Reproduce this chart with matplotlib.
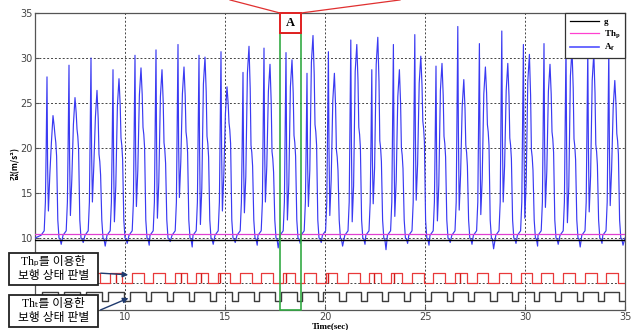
import numpy as np
import matplotlib
matplotlib.use("Agg")
import matplotlib.pyplot as plt
from matplotlib.patches import Rectangle, FancyArrowPatch
from matplotlib.lines import Line2D

plt.rcParams['mathtext.fontset'] = 'stix'

# ---------------- data ----------------
# time of the first (largest) peak of every step (s)
step_t = [6.10, 7.20, 8.30, 9.40, 10.50, 11.55, 12.65, 13.70, 14.80, 15.90,
          16.95, 18.05, 19.10, 20.17, 21.29, 22.34, 23.42, 24.49, 25.55, 26.64,
          27.72, 28.84, 29.92, 30.95, 32.05, 33.14, 34.19]
peak1 = [27.9, 29.2, 30.0, 28.7, 30.3, 30.9, 31.5, 30.3, 30.7, 28.4,
         31.1, 30.6, 28.3, 30.7, 32.0, 28.7, 31.5, 32.6, 29.1, 33.5,
         31.6, 33.0, 31.5, 31.6, 31.5, 31.0, 31.0]
peak2 = [23.6, 25.6, 26.4, 27.7, 28.9, 28.7, 29.0, 30.1, 26.8, 31.3,
         29.3, 29.8, 32.5, 28.3, 31.5, 32.3, 28.7, 30.2, 29.4, 27.6,
         29.0, 29.4, 30.4, 29.3, 31.0, 30.5, 27.5]
trough = [13.0, 12.5, 14.0, 11.8, 13.5, 12.2, 14.5, 11.5, 13.0, 12.8,
          14.0, 12.0, 13.5, 12.5, 11.8, 13.8, 12.4, 14.2, 11.9, 13.1,
          12.6, 14.0, 12.2, 13.4, 11.7, 12.9, 13.6]
shoulder = [20.6, 21.3, 18.5, 20.3, 21.5, 19.8, 21.0, 20.5, 22.0, 19.5,
            18.8, 20.6, 21.8, 19.0, 21.5, 20.0, 19.2, 22.2, 20.5, 19.5,
            21.8, 20.3, 19.0, 21.0, 20.2, 19.6, 20.8]
dip = [9.3, 9.5, 9.1, 9.4, 9.2, 9.6, 9.0, 9.3, 9.5, 9.2,
       8.9, 9.4, 9.5, 9.1, 9.3, 8.7, 9.4, 9.2, 9.5, 9.3,
       8.8, 9.4, 9.1, 9.3, 9.0, 9.4, 9.2]

g_level = 9.8
thp_level = 10.5
red_low, red_high = 5.0, 6.1
blk_low, blk_high = 3.0, 4.0
red_glitch_t = [9.55, 12.8, 13.8, 14.75, 18.05, 20.15, 22.45, 23.45, 26.75]

xticks = [10, 15, 20, 25, 30, 35]
yticks = [5, 10, 15, 20, 25, 30, 35]
ytick_labels = ['', '10', '15', '20', '25', '30', '35']

# ---------------- build series from the read key values ----------------
bx, by = [5.5], [10.0]
for t1, p1, p2, tr, s, d in zip(step_t, peak1, peak2, trough, shoulder, dip):
    pts = [(-0.30, 10.3), (-0.14, 10.8), (-0.08, 14.0), (-0.04, 0.72 * p1),
           (0.0, p1), (0.03, 0.65 * p1), (0.07, tr), (0.14, tr + 4.0),
           (0.22, p2 - 3.0), (0.30, p2), (0.36, s + 0.6 * (p2 - s)),
           (0.40, s + 0.8), (0.44, s), (0.48, s - 1.5), (0.54, 12.0),
           (0.60, 10.0), (0.65, 9.9), (0.71, d)]
    for dt, v in pts:
        bx.append(t1 + dt)
        by.append(v)
bx.append(35.0)
by.append(10.0)

def square(ons, offs, lo, hi):
    xs, ys = [5.5], [lo]
    for a, b in zip(ons, offs):
        xs += [a, a, b, b]
        ys += [lo, hi, hi, lo]
    xs.append(35.0)
    ys.append(lo)
    return xs, ys

red_x, red_y = square([t - 0.13 for t in step_t], [t + 0.45 for t in step_t],
                      red_low, red_high)
blk_x, blk_y = square([t - 0.25 for t in step_t], [t + 0.53 for t in step_t],
                      blk_low, blk_high)

# ---------------- figure ----------------
W, H = 640, 330
fig = plt.figure(figsize=(6.4, 3.3), dpi=100)
ax = fig.add_axes([35 / W, 1 - 310 / H, 590 / W, 297 / H])

ax.plot(bx, by, color='#3a3af2', lw=0.85, zorder=3)
ax.axhline(g_level, color='black', lw=1.0, zorder=4)
ax.axhline(thp_level, color='#e040d0', lw=0.9, zorder=4)
ax.plot(red_x, red_y, color='#e8393a', lw=0.9, zorder=3)
ax.vlines(red_glitch_t, red_low, red_high, color='#d01818', lw=1.0, zorder=3)
ax.plot(blk_x, blk_y, color='#3c3c3c', lw=1.0, zorder=3)

ax.set_xlim(5.5, 35)
ax.set_ylim(2, 35)
ax.set_xticks(xticks)
ax.set_yticks(yticks)
ax.set_yticklabels(ytick_labels)
ax.grid(True, linestyle=(0, (2, 2)), color='#444444', lw=0.7)
ax.tick_params(direction='in', labelsize=7, labelcolor='#444444',
               length=3, pad=1.5, color='#555555')
for sp in ax.spines.values():
    sp.set_color('#555555')
    sp.set_linewidth(0.9)

# legend
handles = [Line2D([], [], color='black', lw=0.9),
           Line2D([], [], color='#ff40d0', lw=0.9),
           Line2D([], [], color='#5050ff', lw=1.2)]
labels = ['g', r'Th$_\mathbf{p}$', r'A$_\mathbf{f}$']
leg = ax.legend(handles, labels, loc='upper right', borderaxespad=0.0,
                fancybox=False, edgecolor='#333333', framealpha=1,
                prop={'family': 'Liberation Serif', 'weight': 'bold', 'size': 6.5},
                handlelength=3.2, handletextpad=0.6, labelspacing=0.25,
                borderpad=0.5)
leg.get_frame().set_linewidth(0.9)
leg.set_zorder(10)

# region A
ax.add_patch(Rectangle((17.75, 2.0), 1.05, 30.8, fill=False, edgecolor='#33aa44',
                       lw=1.2, zorder=6, clip_on=False))
ax.add_patch(Rectangle((17.75, 32.8), 1.05, 2.2, facecolor='white',
                       edgecolor='#e02020', lw=1.4, zorder=7, clip_on=False))
ax.text(18.275, 33.9, 'A', ha='center', va='center', fontsize=9,
        fontweight='bold', family='Liberation Serif', zorder=8)
ax.plot([17.75, 15.25], [35, 36.45], color='#e03030', lw=0.9, clip_on=False, zorder=7)
ax.plot([18.8, 23.75], [35, 36.45], color='#e03030', lw=0.9, clip_on=False, zorder=7)

# axis labels
fig.text(330 / W, 1 - 326 / H, 'Time(sec)', ha='center', va='center',
         fontsize=6.5, fontweight='bold', family='Liberation Serif')
fig.text(15 / W, 1 - 163 / H, '값(m/s²)', ha='center', va='center', rotation=90,
         fontsize=6, fontweight='bold', family='Noto Sans CJK KR')

# annotation boxes
fam = ['Liberation Serif', 'Noto Sans CJK KR', 'DejaVu Sans']
boxes = [((9, 253, 89, 32), 'Thₚ를 이용한\n보행 상태 판별', (98, 273), (131, 275)),
         ((9, 295, 89, 32), 'Thₜ를 이용한\n보행 상태 판별', (98, 311), (131, 297))]
for (x0, y0, w, h), txt, pa, pb in boxes:
    fig.add_artist(Rectangle((x0 / W, 1 - (y0 + h) / H), w / W, h / H,
                             transform=fig.transFigure, facecolor='white',
                             edgecolor='#222222', lw=1.3, zorder=5))
    fig.text((x0 + w / 2) / W, 1 - (y0 + h / 2) / H, txt, ha='center',
             va='center', fontsize=8.5, family=fam, linespacing=1.15,
             zorder=6)
    fig.add_artist(FancyArrowPatch((pa[0] / W, 1 - pa[1] / H),
                                   (pb[0] / W, 1 - pb[1] / H),
                                   transform=fig.transFigure,
                                   arrowstyle='-|>', mutation_scale=8,
                                   color='#1f3a6e', lw=1.0, zorder=6))

fig.savefig('out.png', dpi=100)
